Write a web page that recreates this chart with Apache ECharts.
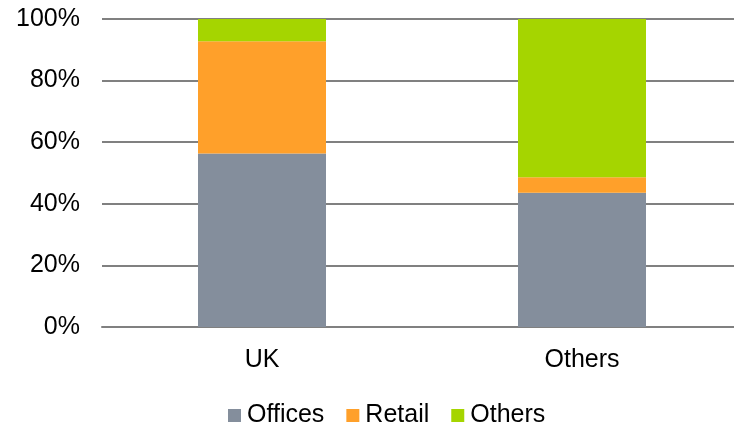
<!DOCTYPE html>
<html><head><meta charset="utf-8">
<script src="https://cdn.jsdelivr.net/npm/echarts@6/dist/echarts.min.js"></script>
<style>html,body{margin:0;padding:0;background:#fff}#c{width:734px;height:426px}</style>
</head><body><div id="c"></div>
<script>
var categories = ['UK', 'Others'];
var offices = [56.3, 43.6];
var retail = [36.5, 5.0];
var others = [7.2, 51.4];
var yTicks = [0, 20, 40, 60, 80, 100];

var chart = echarts.init(document.getElementById('c'), null, {renderer: 'canvas'});
var font = 'Liberation Sans, Arial, sans-serif';
chart.setOption({
  animation: false,
  grid: {left: 102, width: 640, top: 19, height: 308, containLabel: false, outerBoundsMode: 'none'},
  legend: {
    top: 403, left: 228, padding: 0, itemWidth: 13, itemHeight: 13, itemGap: 22,
    icon: 'rect',
    textStyle: {fontFamily: font, fontSize: 25, color: '#000', padding: [0, 0, 0, 1]},
    data: ['Offices', 'Retail', 'Others']
  },
  xAxis: {
    type: 'category', data: categories,
    axisLine: {show: true, lineStyle: {color: '#808080', width: 2}},
    axisTick: {show: false},
    axisLabel: {fontFamily: font, fontSize: 25, color: '#000', margin: 21}
  },
  yAxis: {
    type: 'value', min: 0, max: 100, interval: 20,
    axisLine: {show: false}, axisTick: {show: false},
    splitLine: {lineStyle: {color: '#808080', width: 2}},
    axisLabel: {fontFamily: font, fontSize: 25, color: '#000', margin: 22,
      formatter: function (v) { return yTicks.indexOf(v) >= 0 ? v + '%' : ''; }}
  },
  series: [
    {name: 'Offices', type: 'bar', stack: 's', data: offices, barWidth: 128, itemStyle: {color: '#848E9C'}},
    {name: 'Retail', type: 'bar', stack: 's', data: retail, barWidth: 128, itemStyle: {color: '#FFA02A'}},
    {name: 'Others', type: 'bar', stack: 's', data: others, barWidth: 128, itemStyle: {color: '#A5D500'}}
  ]
});
</script></body></html>
